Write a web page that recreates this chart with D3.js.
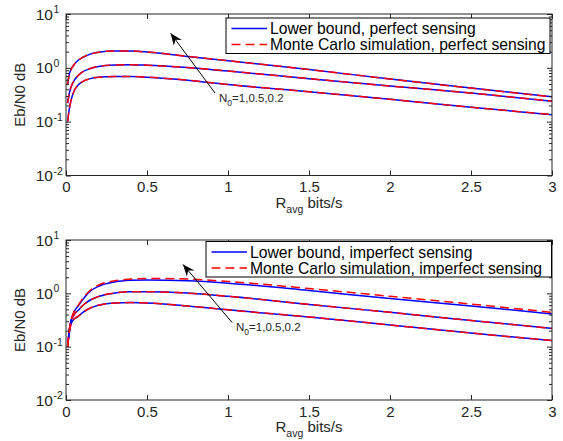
<!DOCTYPE html>
<html>
<head>
<meta charset="utf-8">
<script src="https://cdn.jsdelivr.net/npm/d3@7"></script>
<style>
body { margin: 0; background: #fff; }
svg { font-family: "Liberation Sans", Arial, sans-serif; }
</style>
</head>
<body>
<script>
// sampled R_avg values (bits/s)
var rAvg = [0.01, 0.02, 0.03, 0.05, 0.075, 0.1, 0.15, 0.2, 0.3, 0.4, 0.5, 0.75, 1, 1.5, 2, 2.5, 3]

// perfect sensing, N0 = 1, 0.5, 0.2
var perfBound1  = [0.5, 0.75, 0.92, 1.15, 1.38, 1.55, 1.8, 1.95, 2.06, 2.05, 1.97, 1.63, 1.36, 0.93, 0.62, 0.42, 0.29]
var perfBound05 = [0.22, 0.33, 0.43, 0.58, 0.72, 0.83, 0.97, 1.06, 1.13, 1.14, 1.12, 1.01, 0.87, 0.63, 0.46, 0.34, 0.24]
var perfBound02 = [0.1, 0.17, 0.24, 0.37, 0.48, 0.55, 0.63, 0.67, 0.69, 0.69, 0.67, 0.59, 0.49, 0.36, 0.26, 0.185, 0.135]
var perfMC1  = [0.5, 0.75, 0.92, 1.15, 1.38, 1.55, 1.8, 1.95, 2.06, 2.05, 1.97, 1.63, 1.36, 0.93, 0.62, 0.42, 0.29]
var perfMC05 = [0.22, 0.33, 0.43, 0.58, 0.72, 0.83, 0.97, 1.06, 1.13, 1.14, 1.12, 1.01, 0.87, 0.63, 0.46, 0.34, 0.24]
var perfMC02 = [0.1, 0.17, 0.24, 0.37, 0.48, 0.55, 0.63, 0.67, 0.69, 0.69, 0.67, 0.59, 0.49, 0.36, 0.26, 0.185, 0.135]

// imperfect sensing, N0 = 1, 0.5, 0.2
var impBound1  = [0.1, 0.2, 0.3, 0.45, 0.58, 0.74, 1.1, 1.35, 1.63, 1.75, 1.78, 1.72, 1.55, 1.13, 0.8, 0.58, 0.41]
var impBound05 = [0.1, 0.2, 0.29, 0.4, 0.48, 0.58, 0.75, 0.87, 1.01, 1.07, 1.07, 1.01, 0.88, 0.62, 0.44, 0.31, 0.22]
var impBound02 = [0.1, 0.18, 0.26, 0.33, 0.37, 0.43, 0.53, 0.6, 0.66, 0.67, 0.66, 0.58, 0.49, 0.36, 0.255, 0.18, 0.13]
var impMC1  = [0.1, 0.2, 0.3, 0.46, 0.6, 0.77, 1.14, 1.42, 1.72, 1.85, 1.9, 1.85, 1.67, 1.23, 0.88, 0.63, 0.44]
var impMC05 = [0.1, 0.2, 0.29, 0.4, 0.48, 0.58, 0.75, 0.87, 1.01, 1.07, 1.07, 1.01, 0.88, 0.62, 0.44, 0.31, 0.22]
var impMC02 = [0.1, 0.18, 0.26, 0.33, 0.37, 0.43, 0.53, 0.6, 0.66, 0.67, 0.66, 0.58, 0.49, 0.36, 0.255, 0.18, 0.13]

var xTicks = [0, 0.5, 1, 1.5, 2, 2.5, 3]
var yTicks = [0.01, 0.1, 1, 10]
var yExps = ['-2', '-1', '0', '1']
var legendPerfect = ['Lower bound, perfect sensing', 'Monte Carlo simulation, perfect sensing']
var legendImperfect = ['Lower bound, imperfect sensing', 'Monte Carlo simulation, imperfect sensing']
var noteText = ['N', '0', '=1,0.5,0.2']

// arrow ends in data units [x, y]: tail, tip
var notePerfect = [[0.92, 0.34], [0.646, 4.39]]
var noteImperfect = [[1.025, 0.284], [0.722, 3.48]]

var width = 563
var height = 441
var axisColor = '#262626'

var svg = d3.select('body').append('svg')
    .attr('width', width)
    .attr('height', height)

var minorTicks = []
;[0.01, 0.1, 1].forEach(function (d) {
	for (var k = 2; k <= 9; k++) minorTicks.push(d * k)
})

function panel (top, bottom, bounds, mcs, legend, legendBox, note) {
	var x = d3.scaleLinear().domain([0, 3]).range([66, 552])
	var y = d3.scaleLog().domain([0.01, 10]).range([bottom, top])
	var g = svg.append('g')

	var line = d3.line()
	    .x(function (d, i) { return x(rAvg[i]) })
	    .y(function (d) { return y(d) })
	    .curve(d3.curveMonotoneX)

	bounds.forEach(function (s) {
		g.append('path').attr('d', line(s))
		  .attr('fill', 'none').attr('stroke', '#0000ff').attr('stroke-width', 1.5)
	})
	mcs.forEach(function (s) {
		g.append('path').attr('d', line(s))
		  .attr('fill', 'none').attr('stroke', '#ff0000').attr('stroke-width', 1.5)
		  .attr('stroke-dasharray', '9,5')
	})

	// ticks
	function clean (a) {
		a.select('.domain').remove()
		a.selectAll('line').attr('stroke', axisColor)
		a.selectAll('text').attr('fill', axisColor).style('font-size', '15px').style('font-family', null)
	}
	g.append('g').attr('transform', 'translate(0,' + bottom + ')')
	  .call(d3.axisBottom(x).tickValues(xTicks).tickSizeInner(-5).tickSizeOuter(0).tickPadding(6).tickFormat(d3.format('')))
	  .call(clean)
	g.append('g').attr('transform', 'translate(0,' + top + ')')
	  .call(d3.axisTop(x).tickValues(xTicks).tickSizeInner(-5).tickSizeOuter(0).tickFormat(''))
	  .call(clean)
	g.append('g').attr('transform', 'translate(66,0)')
	  .call(d3.axisLeft(y).tickValues(yTicks).tickSizeInner(-5).tickSizeOuter(0).tickFormat(''))
	  .call(clean)
	g.append('g').attr('transform', 'translate(66,0)')
	  .call(d3.axisLeft(y).tickValues(minorTicks).tickSizeInner(-3).tickSizeOuter(0).tickFormat(''))
	  .call(clean)
	g.append('g').attr('transform', 'translate(552,0)')
	  .call(d3.axisRight(y).tickValues(yTicks).tickSizeInner(-5).tickSizeOuter(0).tickFormat(''))
	  .call(clean)
	g.append('g').attr('transform', 'translate(552,0)')
	  .call(d3.axisRight(y).tickValues(minorTicks).tickSizeInner(-3).tickSizeOuter(0).tickFormat(''))
	  .call(clean)

	yTicks.forEach(function (d, i) {
		g.append('text').attr('x', 53).attr('y', y(d) + 5.5)
		  .attr('text-anchor', 'end').attr('fill', axisColor).style('font-size', '15.5px')
		  .text('10')
		g.append('text').attr('x', 53.5).attr('y', y(d) - 1)
		  .attr('fill', axisColor).style('font-size', '10.5px')
		  .text(yExps[i])
	})

	g.append('rect')
	    .attr('x', 66).attr('y', top)
	    .attr('width', 486).attr('height', bottom - top)
	    .attr('fill', 'none').attr('stroke', axisColor).attr('stroke-width', 1)

	// axis labels
	g.append('text')
	    .attr('transform', 'translate(25,' + (top + bottom) / 2 + ') rotate(-90)')
	    .attr('text-anchor', 'middle').attr('fill', axisColor).style('font-size', '15px')
	    .text('Eb/N0 dB')
	var xl = g.append('text')
	    .attr('x', 309).attr('y', bottom + 32)
	    .attr('text-anchor', 'middle').attr('fill', axisColor).style('font-size', '15px')
	xl.append('tspan').text('R')
	xl.append('tspan').attr('dy', 5).style('font-size', '10.5px').text('avg')
	xl.append('tspan').attr('dy', -5).text(' bits/s')

	// legend
	var lb = g.append('g')
	lb.append('rect')
	    .attr('x', legendBox[0]).attr('y', legendBox[1])
	    .attr('width', legendBox[2]).attr('height', 35.5)
	    .attr('fill', '#fff').attr('stroke', '#000').attr('stroke-width', 1)
	legend.forEach(function (t, i) {
		var cy = legendBox[1] + 10.5 + i * 16
		lb.append('line')
		    .attr('x1', legendBox[0] + 5.5).attr('x2', legendBox[0] + 41)
		    .attr('y1', cy).attr('y2', cy)
		    .attr('stroke', i === 0 ? '#0000ff' : '#ff0000').attr('stroke-width', 1.5)
		    .attr('stroke-dasharray', i === 0 ? null : '9,5')
		lb.append('text')
		    .attr('x', legendBox[0] + 44).attr('y', cy + 5.5)
		    .attr('fill', '#000').style('font-size', '15.7px')
		    .text(t)
	})

	// annotation arrow
	var x0 = x(note[0][0]), y0 = y(note[0][1])
	var x1 = x(note[1][0]), y1 = y(note[1][1])
	var ang = Math.atan2(y1 - y0, x1 - x0) * 180 / Math.PI
	g.append('line')
	    .attr('x1', x0).attr('y1', y0).attr('x2', x1).attr('y2', y1)
	    .attr('stroke', '#000').attr('stroke-width', 1)
	g.append('path')
	    .attr('d', 'M0,0 L-12,-5 L-8,0 L-12,5 Z')
	    .attr('transform', 'translate(' + x1 + ',' + y1 + ') rotate(' + ang + ')')
	    .attr('fill', '#000')
	var nt = g.append('text')
	    .attr('x', x0 + 4).attr('y', y0 + 9)
	    .attr('fill', '#262626').style('font-size', '11.5px')
	nt.append('tspan').text(noteText[0])
	nt.append('tspan').attr('dy', 4).style('font-size', '8.5px').text(noteText[1])
	nt.append('tspan').attr('dy', -4).text(noteText[2])
}

panel(14, 175.5, [perfBound1, perfBound05, perfBound02], [perfMC1, perfMC05, perfMC02],
      legendPerfect, [226, 18, 324], notePerfect)
panel(240, 400, [impBound1, impBound05, impBound02], [impMC1, impMC05, impMC02],
      legendImperfect, [206, 241.5, 345.5], noteImperfect)
</script>
</body>
</html>
